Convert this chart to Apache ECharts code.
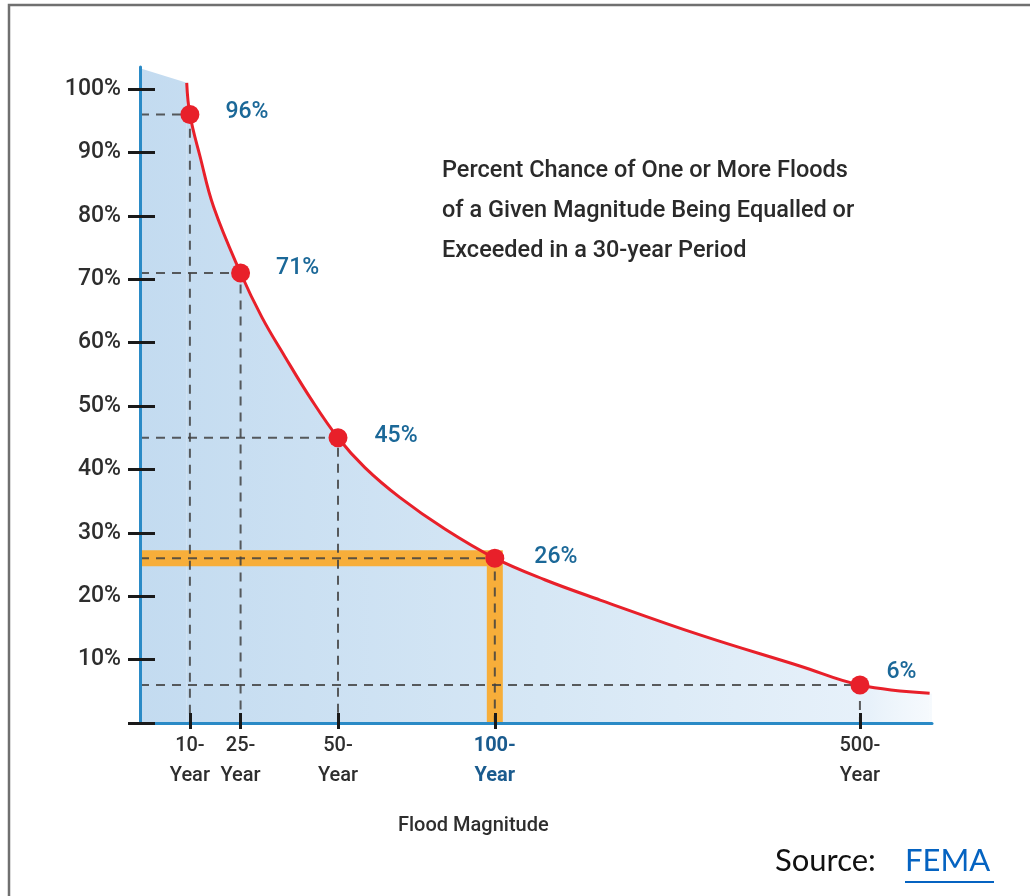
<!DOCTYPE html>
<html>
<head>
<meta charset="utf-8">
<title>Flood chance in 30 years</title>
<script src="https://cdn.jsdelivr.net/npm/echarts@6/dist/echarts.min.js"></script>
<style>
  html, body { margin: 0; padding: 0; background: #fff; }
  #main { width: 1030px; height: 896px; }
</style>
</head>
<body>
<div id="main"></div>
<script>
// flood magnitude marks, placed along a schematic 0-100 axis (as drawn)
var yearLabels = ["10-\nYear", "25-\nYear", "50-\nYear", "100-\nYear", "500-\nYear"];
var yearPos = [6.3, 12.7, 25.0, 44.8, 90.9];
var chance = [96, 71, 45, 26, 6];
var highlight = 3; // 100-year

// red curve
var curveX = [5.9, 6.3, 7.6, 9.3, 12.7, 15.4, 18.3, 21.5, 25.0, 28.4, 32.8, 38.5, 44.8, 51.1, 58.1, 70.7, 83.3, 90.9, 99.7];
var curveY = [101.0, 96, 89.3, 81.4, 71, 64.0, 57.8, 51.3, 45, 40.3, 35.6, 30.6, 26, 22.6, 19.4, 13.9, 9.0, 6, 4.7];

// shaded area corners outside the curve
var areaStart = [0, 103.3];
var areaEnd = [112.4, 1.2];

var yTickValues = [0, 10, 20, 30, 40, 50, 60, 70, 80, 90, 100];
var yLabelValues = [10, 20, 30, 40, 50, 60, 70, 80, 90, 100];

var FONT = 'Roboto, "Liberation Sans", Arial, sans-serif';
var SMOOTH = 0.4;

var chartDom = document.getElementById("main");
var myChart = echarts.init(chartDom);

var curve = curveX.map(function (x, i) { return [x, curveY[i]]; });

// one pixel-space gradient shared by all the shaded pieces
function areaFill() {
  return {
    color: new echarts.graphic.LinearGradient(140, 0, 1030, 0, [
      { offset: 0, color: "#c3dbf0" },
      { offset: 0.45, color: "#d6e7f5" },
      { offset: 0.82, color: "#e7f1fa" },
      { offset: 1, color: "rgba(255,255,255,0)" }
    ], true),
    opacity: 1
  };
}

function areaSeries(name, data, smooth) {
  return {
    name: name,
    type: "line",
    z: 1,
    silent: true,
    clip: false,
    smooth: smooth,
    symbol: "none",
    data: data,
    lineStyle: { width: 0 },
    areaStyle: areaFill()
  };
}

// dashed guide lines, one per marked point
var guideSeries = yearPos.map(function (x, i) {
  return {
    type: "line",
    z: 3,
    silent: true,
    symbol: "none",
    data: [[0, chance[i]], [x, chance[i]], [x, 0]],
    lineStyle: { color: "rgba(65,65,65,0.85)", width: 2, type: [9, 7] }
  };
});

// label shifts [distance, dy] next to each dot
var labelShift = [[26, -2], [26, -5], [27, -2], [30, -1], [17, -13]];

var points = yearPos.map(function (x, i) {
  return {
    value: [x, chance[i]],
    label: {
      show: true,
      position: "right",
      distance: labelShift[i][0],
      offset: [0, labelShift[i][1]],
      formatter: chance[i] + "%",
      color: "#1b6898",
      fontSize: 23,
      fontWeight: 500,
      fontFamily: FONT
    }
  };
});

function findYear(v) {
  for (var i = 0; i < yearPos.length; i++) {
    if (Math.abs(yearPos[i] - v) < 0.01) return i;
  }
  return -1;
}

var option = {
  animation: false,
  backgroundColor: "#fff",
  grid: { left: 140, right: 98, top: 67, bottom: 173, outerBoundsMode: "none" },
  xAxis: [
    {
      type: "value", min: 0, max: 100, z: 10,
      axisLine: { show: true, lineStyle: { color: "#2a8ac6", width: 3 } },
      axisTick: { show: true, customValues: yearPos, length: 6, lineStyle: { color: "#1a1a1a", width: 3 } },
      splitLine: { show: false },
      axisLabel: {
        show: true, customValues: yearPos, margin: 8,
        formatter: function (v) {
          var i = findYear(v);
          if (i < 0) return "";
          var key = i === highlight ? "hl" : "n";
          return yearLabels[i].split("\n").map(function (s) {
            return "{" + key + "|" + s + "}";
          }).join("\n");
        },
        rich: {
          n: { fontSize: 20, lineHeight: 30, color: "#2e2e2e", fontWeight: 500, fontFamily: FONT },
          hl: { fontSize: 20, lineHeight: 30, color: "#1a5b8e", fontWeight: "bold", fontFamily: FONT }
        }
      }
    },
    {
      type: "value", min: 0, max: 100, z: 10, position: "bottom",
      axisLine: { show: false },
      axisTick: { show: true, inside: true, customValues: yearPos, length: 10, lineStyle: { color: "#1a1a1a", width: 3 } },
      axisLabel: { show: false },
      splitLine: { show: false }
    }
  ],
  yAxis: [
    {
      type: "value", min: 0, max: 103.5, z: 10,
      axisLine: { show: true, lineStyle: { color: "#2a8ac6", width: 3 } },
      axisTick: { show: true, customValues: yTickValues, length: 12, lineStyle: { color: "#1a1a1a", width: 3 } },
      splitLine: { show: false },
      axisLabel: {
        show: true, customValues: yLabelValues, margin: 19,
        formatter: "{value}%",
        color: "#2e2e2e", fontSize: 23, fontWeight: 500, fontFamily: FONT,
        padding: [0, 0, 5, 0]
      }
    },
    {
      type: "value", min: 0, max: 103.5, z: 10, position: "left",
      axisLine: { show: false },
      axisTick: { show: true, inside: true, customValues: yTickValues, length: 15, lineStyle: { color: "#1a1a1a", width: 3 } },
      axisLabel: { show: false },
      splitLine: { show: false }
    }
  ],
  series: [
    areaSeries("area-left", [areaStart, curve[0]], false),
    areaSeries("area", curve, SMOOTH),
    areaSeries("area-right", [curve[curve.length - 1], areaEnd], false),
    {
      name: "100-year",
      type: "line",
      z: 2,
      silent: true,
      symbol: "none",
      data: [[0, chance[highlight]], [yearPos[highlight], chance[highlight]], [yearPos[highlight], 0]],
      lineStyle: { color: "#f7ae3a", width: 16, join: "miter", cap: "butt" }
    }
  ].concat(guideSeries, [
    {
      name: "chance",
      type: "line",
      z: 4,
      smooth: SMOOTH,
      symbol: "none",
      data: curve,
      lineStyle: { color: "#e8202a", width: 3 }
    },
    {
      name: "points",
      type: "scatter",
      z: 5,
      symbolSize: 19,
      itemStyle: { color: "#e8202a", opacity: 1 },
      data: points
    }
  ]),
  graphic: [
    {
      type: "rect",
      shape: { x: 9, y: 5, width: 1100, height: 1000 },
      style: { fill: "none", stroke: "#707070", lineWidth: 2.5 },
      silent: true
    },
    {
      type: "text",
      left: 442, top: 151,
      style: {
        text: "Percent Chance of One or More Floods\nof a Given Magnitude Being Equalled or\nExceeded in a 30-year Period",
        fill: "#2a2a2a", font: "500 23.5px " + FONT, lineHeight: 40
      }
    },
    {
      type: "text",
      left: 398, top: 816,
      style: { text: "Flood Magnitude", fill: "#2e2e2e", font: "500 20px " + FONT }
    },
    {
      type: "text",
      left: 775, top: 845,
      style: { text: "Source:", fill: "#111", font: "31px Lato, sans-serif" }
    },
    {
      type: "text",
      left: 905, top: 845,
      style: { text: "FEMA", fill: "#0563c1", font: "31px Lato, sans-serif" }
    },
    {
      type: "line",
      shape: { x1: 905, y1: 882, x2: 994, y2: 882 },
      style: { stroke: "#0563c1", lineWidth: 2 }
    }
  ]
};

option && myChart.setOption(option);
</script>
</body>
</html>
